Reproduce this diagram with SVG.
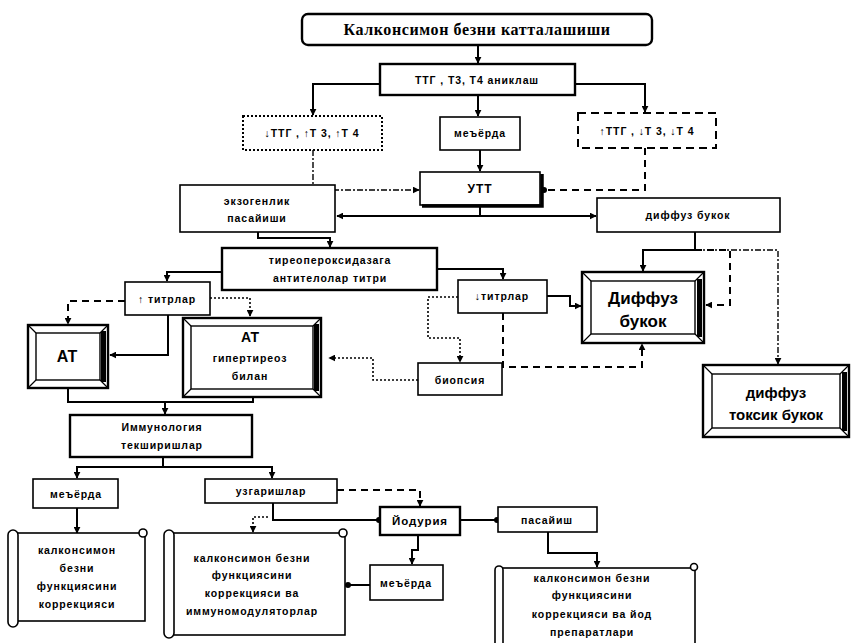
<svg xmlns="http://www.w3.org/2000/svg" width="851" height="643" viewBox="0 0 851 643">
<defs>
<marker id="ah" viewBox="0 0 10 10" refX="9" refY="5" markerWidth="7" markerHeight="7" orient="auto" markerUnits="userSpaceOnUse"><path d="M0,0 L10,5 L0,10 z" fill="#000"/></marker>
<marker id="dot" viewBox="0 0 10 10" refX="5" refY="5" markerWidth="6" markerHeight="6" markerUnits="userSpaceOnUse"><circle cx="5" cy="5" r="5" fill="#000"/></marker>
<style>
.b{fill:#fff;stroke:#000;stroke-width:1.6}
.bt{fill:#fff;stroke:#000;stroke-width:2.4}
.sh{fill:none;stroke:#000;stroke-width:3.5}
.bo{fill:#fff;stroke:#000;stroke-width:2.4}
.bi{fill:none;stroke:#000;stroke-width:1.4}
.bl{fill:none;stroke:#000;stroke-width:1.2}
.dk{fill:#000}
.t{font-family:"Liberation Sans",Arial,sans-serif;font-weight:bold;font-size:10.5px;text-anchor:middle;letter-spacing:0.9px;fill:#000}
.tl{font-family:"Liberation Sans",Arial,sans-serif;font-weight:bold;font-size:16px;text-anchor:middle;fill:#000}
.tt{font-family:"Liberation Serif","Times New Roman",serif;font-weight:bold;font-size:16px;text-anchor:middle;letter-spacing:0.6px;fill:#000}
.c{fill:none;stroke:#000;stroke-width:2}
.cd{fill:none;stroke:#000;stroke-width:2;stroke-dasharray:7 5}
.co{fill:none;stroke:#000;stroke-width:1.6;stroke-dasharray:2 2}
.cdd{fill:none;stroke:#000;stroke-width:1.4;stroke-dasharray:6 2 2 2}
.a{marker-end:url(#ah)}
.d{marker-end:url(#dot)}
</style>
</defs>
<rect width="851" height="643" fill="#fff"/>

<g id="connectors">
<path class="c a" d="M478,45 V63"/>
<path class="c a" d="M380,84 H313 V115"/>
<path class="c a" d="M575,84 H645 V112"/>
<path class="c a" d="M478,95 V116"/>
<path class="c a" d="M480,150 V171"/>
<path class="cdd a" d="M313,150 V190 H419"/>
<path class="cd d" d="M645,148 V190 H544"/>
<path class="c a" d="M480,205 V216 H337"/>
<path class="c a" d="M480,216 H596"/>
<path class="c a" d="M258,232 V238 H330 V247"/>
<path class="c a" d="M437,269 H503 V279"/>
<path class="c a" d="M547,296 H570 V306 H581"/>
<path class="c a" d="M695,232 V250 H643 V271"/>
<path class="cd a" d="M695,250 H730 V305 H706"/>
<path class="cdd a" d="M695,250 H778 V364"/>
<path class="c a" d="M222,272 H167 V281"/>
<path class="cd a" d="M125,301 H68 V324"/>
<path class="co a" d="M210,298 H250 V316"/>
<path class="c a" d="M168,315 V355 H110"/>
<path class="co a" d="M458,297 H428 V338 H460 V362"/>
<path class="cd a" d="M503,313 V367 H642 V344"/>
<path class="co a" d="M418,380 H373 V358 H329"/>
<path class="c" d="M68,388 V402 H253 V397"/>
<path class="c a" d="M165,402 V414"/>
<path class="c a" d="M163,457 V467 H77 V478"/>
<path class="c a" d="M163,467 H272 V478"/>
<path class="c a" d="M77,508 V533"/>
<path class="cd a" d="M337,490 H420 V506"/>
<path class="c d" d="M273,503 V520 H379"/>
<path class="co a" d="M268,517 H253 V532"/>
<path class="c a" d="M418,535 V550 H412 V564"/>
<path class="c d" d="M370,585 H348"/>
<path class="c d" d="M460,520 H497"/>
<path class="c a" d="M548,532 V553 H597 V567"/>
</g>

<g id="n-title">
<rect class="bt" x="302" y="14" width="350" height="31" rx="6"/>
<text class="tt" x="477" y="35">Калконсимон безни катталашиши</text>
</g>
<g id="n-ttg">
<rect class="bt" x="380" y="64" width="195" height="31"/>
<text class="t" x="477" y="84">ТТГ , Т3, Т4 аниклаш</text>
</g>
<g id="n-low">
<rect class="b" x="243" y="116" width="139" height="34" style="stroke-dasharray:2 2;stroke-width:2"/>
<text class="t" x="312" y="137">↓ТТГ , ↑Т 3, ↑Т 4</text>
</g>
<g id="n-norm1">
<rect class="b" x="440" y="117" width="80" height="33"/>
<text class="t" x="480" y="137">меъёрда</text>
</g>
<g id="n-high">
<rect class="b" x="578" y="113" width="138" height="35" style="stroke-dasharray:8 5;stroke-width:2"/>
<text class="t" x="647" y="135">↑ТТГ , ↓Т 3, ↓Т 4</text>
</g>
<g id="n-utt">
<rect class="b" x="420" y="172" width="120" height="33"/>
<path class="sh" d="M422,206 H542 V174"/>
<text class="t" x="480" y="193" style="font-size:12px">УТТ</text>
</g>
<g id="n-exo">
<rect class="b" x="180" y="185" width="155" height="47"/>
<text class="t" x="257" y="205">экзогенлик</text>
<text class="t" x="257" y="222">пасайиши</text>
</g>
<g id="n-diff1">
<rect class="b" x="597" y="198" width="183" height="34"/>
<text class="t" x="688" y="219">диффуз букок</text>
</g>
<g id="n-tpo">
<rect class="bt" x="222" y="248" width="215" height="42"/>
<text class="t" x="330" y="264">тиреопероксидазага</text>
<text class="t" x="330" y="282">антителолар титри</text>
</g>
<g id="n-titrdown">
<rect class="b" x="458" y="280" width="89" height="33"/>
<text class="t" x="502" y="300">↓титрлар</text>
</g>
<g id="n-titrup">
<rect class="b" x="125" y="282" width="85" height="33"/>
<text class="t" x="167" y="303">↑ титрлар</text>
</g>
<g id="n-diff2">
<rect class="bo" x="582" y="272" width="122" height="71"/>
<rect class="bi" x="591" y="281" width="104" height="53"/>
<path class="bl" d="M582,272 L591,281 M704,272 L695,281 M582,343 L591,334 M704,343 L695,334"/>
<rect class="dk" x="697" y="279" width="5" height="58"/>
<text class="tl" x="643" y="304" style="font-size:17px">Диффуз</text>
<text class="tl" x="643" y="327" style="font-size:17px">букок</text>
</g>
<g id="n-toxic">
<rect class="bo" x="703" y="365" width="146" height="72"/>
<rect class="bi" x="712" y="374" width="128" height="54"/>
<path class="bl" d="M703,365 L712,374 M849,365 L840,374 M703,437 L712,428 M849,437 L840,428"/>
<rect class="dk" x="842" y="372" width="5" height="59"/>
<text class="tl" x="776" y="398" style="font-size:15px">диффуз</text>
<text class="tl" x="776" y="420" style="font-size:15px">токсик букок</text>
</g>
<g id="n-at">
<rect class="bo" x="28" y="325" width="80" height="63"/>
<rect class="bi" x="36" y="333" width="64" height="47"/>
<path class="bl" d="M28,325 L36,333 M108,325 L100,333 M28,388 L36,380 M108,388 L100,380"/>
<rect class="dk" x="101" y="331" width="5" height="51"/>
<text class="tl" x="67" y="362">АТ</text>
</g>
<g id="n-athyper">
<rect class="bo" x="183" y="318" width="138" height="79"/>
<rect class="bi" x="191" y="326" width="122" height="63"/>
<path class="bl" d="M183,318 L191,326 M321,318 L313,326 M183,397 L191,389 M321,397 L313,389"/>
<rect class="dk" x="314" y="324" width="5" height="67"/>
<text class="tl" x="250" y="342" style="font-size:14px">АТ</text>
<text class="t" x="250" y="362">гипертиреоз</text>
<text class="t" x="250" y="380">билан</text>
</g>
<g id="n-biopsy">
<rect class="b" x="418" y="363" width="84" height="32"/>
<text class="t" x="460" y="384">биопсия</text>
</g>
<g id="n-immun">
<rect class="bt" x="70" y="415" width="182" height="42"/>
<text class="t" x="162" y="431">Иммунология</text>
<text class="t" x="162" y="449">текширишлар</text>
</g>
<g id="n-norm2">
<rect class="b" x="33" y="479" width="85" height="29"/>
<text class="t" x="76" y="498">меъёрда</text>
</g>
<g id="n-change">
<rect class="b" x="205" y="479" width="132" height="24"/>
<text class="t" x="271" y="495">узгаришлар</text>
</g>
<g id="n-iod">
<rect class="bt" x="380" y="507" width="80" height="28"/>
<text class="t" x="420" y="525" style="font-size:11.5px">Йодурия</text>
</g>
<g id="n-decr">
<rect class="b" x="498" y="507" width="99" height="25"/>
<text class="t" x="547" y="524">пасайиш</text>
</g>
<g id="n-norm3">
<rect class="b" x="370" y="565" width="73" height="35"/>
<text class="t" x="406" y="587">меъёрда</text>
</g>
<g id="n-scroll1">
<rect class="b" x="15" y="533" width="130" height="88"/>
<rect class="b" x="8" y="530" width="10" height="97" rx="5"/>
<circle class="b" cx="143" cy="533" r="4"/>
<text class="t" x="77" y="554">калконсимон</text>
<text class="t" x="77" y="572">безни</text>
<text class="t" x="77" y="590">функциясини</text>
<text class="t" x="77" y="608">коррекцияси</text>
</g>
<g id="n-scroll2">
<rect class="b" x="172" y="533" width="173" height="102"/>
<rect class="b" x="164" y="530" width="10" height="108" rx="5"/>
<circle class="b" cx="343" cy="533" r="4"/>
<text class="t" x="252" y="562">калконсимон безни</text>
<text class="t" x="252" y="579">функциясини</text>
<text class="t" x="252" y="597">коррекцияси ва</text>
<text class="t" x="252" y="615">иммуномодуляторлар</text>
</g>
<g id="n-scroll3">
<rect class="b" x="500" y="568" width="195" height="80"/>
<rect class="b" x="495" y="566" width="8" height="82" rx="4"/>
<circle class="b" cx="694" cy="567" r="3.5"/>
<text class="t" x="592" y="582">калконсимон безни</text>
<text class="t" x="592" y="599">функциясини</text>
<text class="t" x="592" y="618">коррекцияси ва йод</text>
<text class="t" x="592" y="636">препаратлари</text>
</g>
</svg>
